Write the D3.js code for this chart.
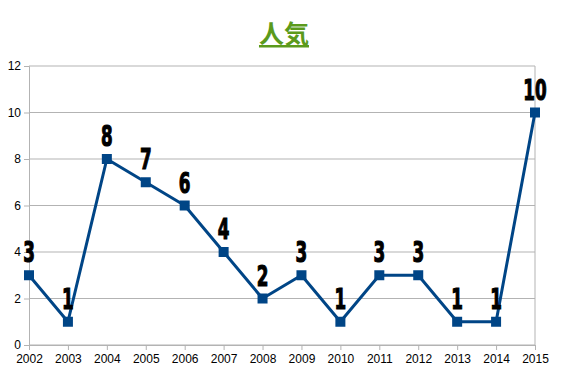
<!DOCTYPE html>
<html>
<head>
<meta charset="utf-8">
<script src="https://cdn.jsdelivr.net/npm/d3@7"></script>
<style>
  body { margin: 0; background: #fff; }
  .tick text { font-family: "Liberation Sans", Arial, sans-serif; font-size: 12px; fill: #000; }
</style>
</head>
<body>
<svg class="chart" width="567" height="378"></svg>
<script>
"use strict";

var years = [2002,2003,2004,2005,2006,2007,2008,2009,2010,2011,2012,2013,2014,2015];
var values = [3,1,8,7,6,4,2,3,1,3,3,1,1,10];
var yTicks = [0,2,4,6,8,10,12];
var title = '人気';

var svg = d3.select('.chart');

var padLeft = 29, padRight = 535, padTop = 66, padBottom = 345;

var x = d3.scalePoint()
  .domain(years)
  .range([padLeft, padRight]);

var y = d3.scaleLinear()
  .domain([0, 12])
  .range([padBottom, padTop]);

// grid
svg.append('g').selectAll('line')
  .data(yTicks)
  .enter().append('line')
    .attr('x1', padLeft).attr('x2', padRight)
    .attr('y1', function(d){return y(d)}).attr('y2', function(d){return y(d)})
    .style('stroke', '#b3b3b3');

svg.append('line')
  .attr('x1', padRight).attr('x2', padRight)
  .attr('y1', padTop).attr('y2', padBottom)
  .style('stroke', '#b3b3b3');

var xAxis = d3.axisBottom(x).tickSize(5).tickPadding(4);
var yAxis = d3.axisLeft(y).tickValues(yTicks).tickSize(5).tickPadding(3);

svg.append('g')
  .attr('transform', 'translate(0,' + padBottom + ')')
  .call(xAxis);
svg.append('g')
  .attr('transform', 'translate(' + padLeft + ',0)')
  .call(yAxis);

svg.selectAll('.domain, .tick line').style('stroke', '#b3b3b3');

// line
var line = d3.line()
  .x(function(d, i){return x(years[i])})
  .y(function(d){return y(d)});

svg.append('path')
  .datum(values)
  .attr('d', line)
  .style('fill', 'none')
  .style('stroke', '#004586')
  .style('stroke-width', 3)
  .style('stroke-linejoin', 'round');

svg.append('g').selectAll('rect')
  .data(values)
  .enter().append('rect')
    .attr('x', function(d, i){return x(years[i]) - 5})
    .attr('y', function(d){return y(d) - 5})
    .attr('width', 10)
    .attr('height', 10)
    .style('fill', '#004586');

// value labels, condensed bold
svg.append('g').selectAll('text')
  .data(values)
  .enter().append('text')
    .attr('transform', function(d, i){
      return 'translate(' + x(years[i]) + ',' + (y(d) - 13) + ') scale(0.6,1)';
    })
    .attr('text-anchor', 'middle')
    .style('font-family', '"DejaVu Sans", sans-serif')
    .style('font-weight', 'bold')
    .style('font-size', '28px')
    .style('stroke', '#000')
    .style('stroke-width', 1.2)
    .style('fill', '#000')
    .text(function(d){return d});

svg.append('text')
  .attr('x', 284)
  .attr('y', 43)
  .attr('text-anchor', 'middle')
  .style('font-family', '"Noto Sans CJK JP", sans-serif')
  .style('font-weight', 'bold')
  .style('font-size', '25px')
  .style('fill', '#5b9a1c')
  .style('text-decoration', 'underline')
  .text(title);
</script>
</body>
</html>
